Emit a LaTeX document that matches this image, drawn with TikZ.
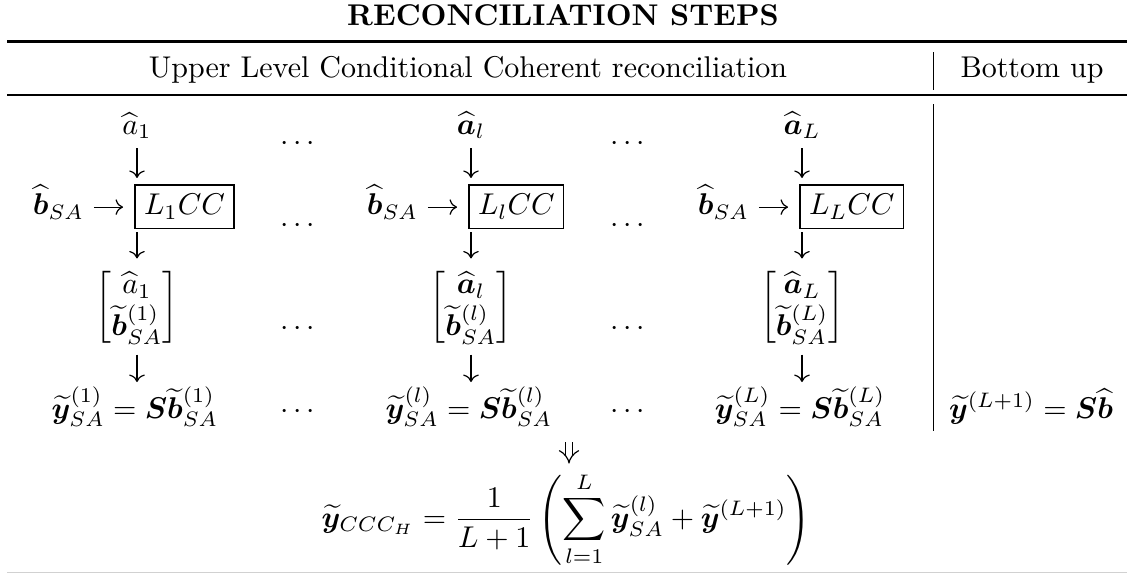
\documentclass[tikz,border=0pt]{standalone}
\usepackage{amsmath,bm}
\usetikzlibrary{arrows.meta}
\begin{document}
\begin{tikzpicture}[x=0.33333pt,y=-0.33333pt,
  m/.style={inner sep=0pt, outer sep=0pt},
  ahat/.style={m, anchor=base, text depth=1.5pt},
  llbox/.style={draw, line width=0.4pt, inner sep=3pt, outer sep=0pt, anchor=west, text height=6.9pt, text depth=1.5pt},
  bsa/.style={m, anchor=base east},
  mat/.style={m, anchor=center},
  eqn/.style={m, anchor=base, text height=9pt},
  dotsn/.style={m, anchor=base},
  txt/.style={m, anchor=base},
  arr/.style={line width=0.4pt, -{Computer Modern Rightarrow}},
  implies/.style={line width=0.4pt, double, double distance=2pt, -{Implies}},
  toprulestyle/.style={line width=0.8pt},
  midrulestyle/.style={line width=0.5pt},
  vbar/.style={line width=0.4pt},
  botrulestyle/.style={line width=0.5pt, black!18}
]
\useasboundingbox (0,0) rectangle (1127,574);

% title and header
\node[txt, font=\bfseries] (title) at (563,25) {RECONCILIATION STEPS};
\draw[toprulestyle] (7,41.5) -- (1127,41.5);
\node[txt] (hdr1) at (468,77.5) {Upper Level Conditional Coherent reconciliation};
\node[txt] (hdr2) at (1032,77.5) {Bottom up};
\draw[vbar] (933.5,52) -- (933.5,90);
\draw[midrulestyle] (7,95) -- (1127,95);
\draw[vbar] (933.5,104) -- (933.5,431);

% columns
\foreach \i/\X/\a/\s in {1/137/{\widehat{a}_1}/1, 2/471/{\widehat{\bm a}_l}/l, 3/802/{\widehat{\bm a}_L}/L}{
  \node[ahat] (a\i) at (\X,134) {$\a$};
  \node[llbox] (box\i) at (\X-2,206.5) {$L_{\s}CC$};
  \node[bsa] (bsa\i) at ([xshift=-17pt]box\i.base west) {$\widehat{\bm b}_{SA}$};
  \node[mat] (mat\i) at (\X,307.5) {$\begin{bmatrix}\a\\ \widetilde{\bm b}^{(\s)}_{SA}\end{bmatrix}$};
  \node[eqn] (eq\i) at (\X-2,418) {$\widetilde{\bm y}^{(\s)}_{SA} = \bm S\widetilde{\bm b}^{(\s)}_{SA}$};
  \draw[arr, shorten <=3.17pt, shorten >=2.33pt] (a\i.south) -- (a\i.south |- box\i.north);
  \draw[arr, shorten <=3.33pt, shorten >=4pt] ([yshift=2.5pt]bsa\i.base east) -- ([yshift=2.5pt]box\i.base west);
  \draw[arr, shorten <=1.33pt, shorten >=3.33pt] (a\i |- box\i.south) -- (a\i |- mat\i.north);
  \draw[arr, shorten <=2.67pt, shorten >=3pt] (a\i |- mat\i.south) -- (a\i |- eq\i.north);
}

% dots
\foreach \x/\k in {300/a,630/b}{
  \foreach \y [count=\j] in {150.5,232.5,335.5,418}{
    \node[dotsn] (dots\k\j) at (\x,\y) {$\cdots$};
  }
}

% bottom up
\node[eqn] (bu) at (1031,418) {$\widetilde{\bm y}^{(L+1)} = \bm S\widehat{\bm b}$};

% final
\node[m, anchor=center] (final) at (566,519.5) {$\displaystyle \widetilde{\bm y}_{CCC_H} = \frac{1}{L+1}\left(\sum_{l=1}^{L}\widetilde{\bm y}^{(l)}_{SA} + \widetilde{\bm y}^{(L+1)}\right)$};
\coordinate (dn) at (569,442);
\draw[implies, shorten >=3pt] (dn) -- (dn |- final.north);

\draw[botrulestyle] (7,572.5) -- (1127,572.5);
\end{tikzpicture}
\end{document}
